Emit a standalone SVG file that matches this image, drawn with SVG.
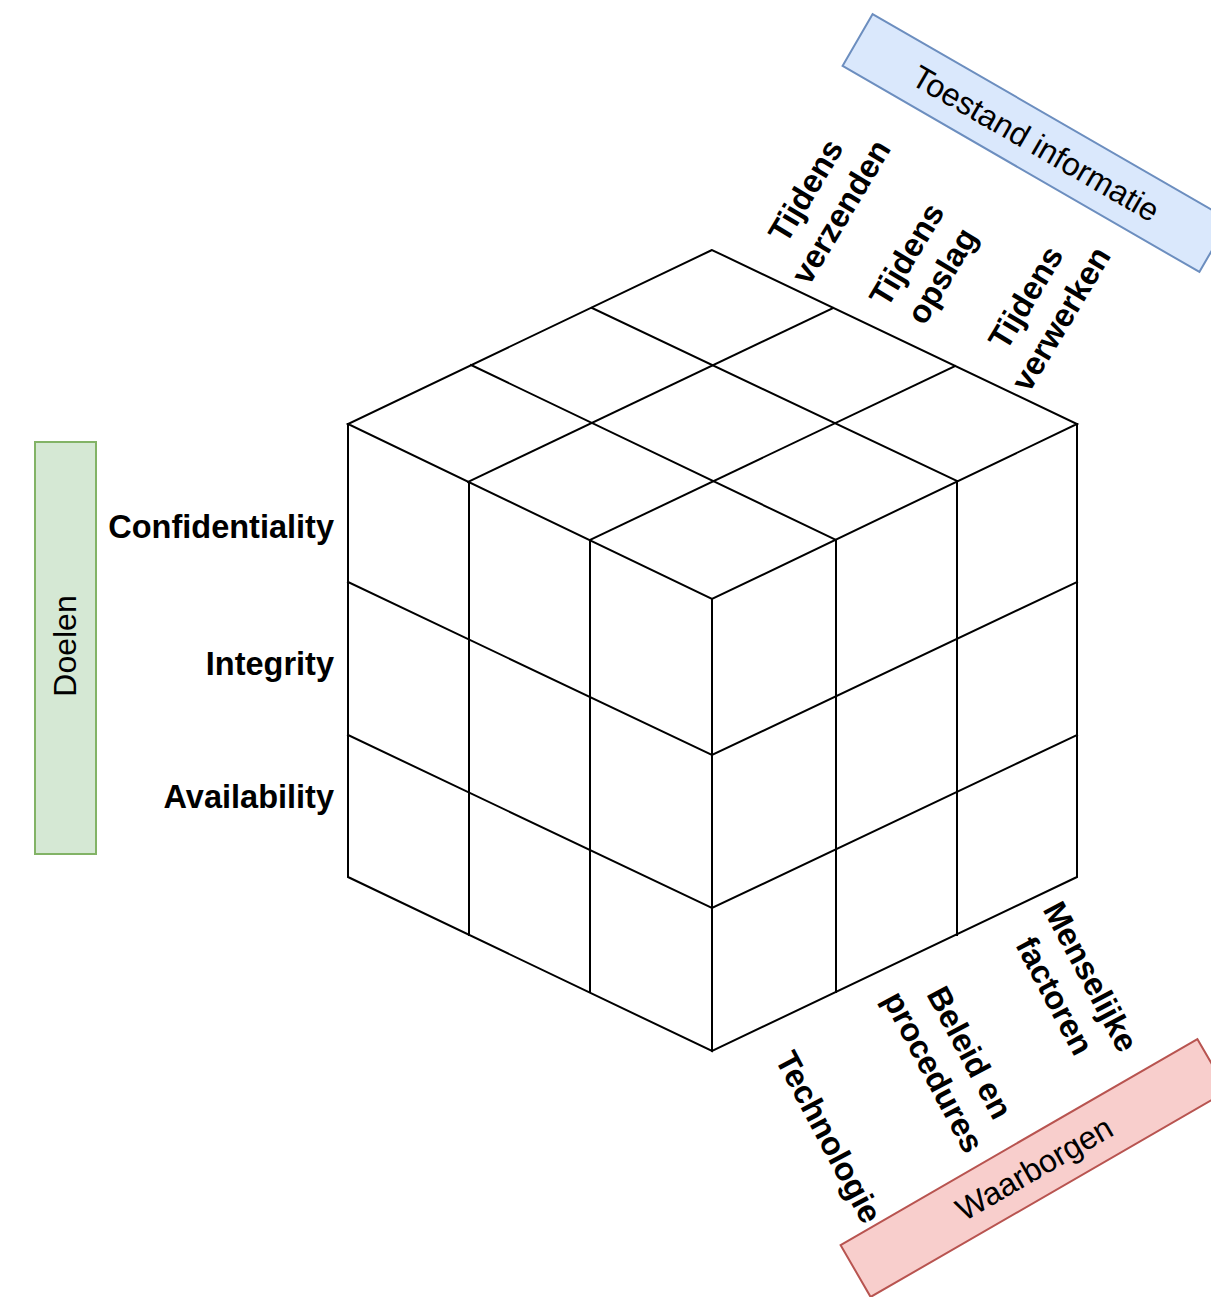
<svg xmlns="http://www.w3.org/2000/svg" width="1211" height="1297" viewBox="0 0 1211 1297">
  <style>
    .grid { fill: none; stroke: #000; stroke-width: 2; stroke-linejoin: miter; stroke-linecap: square; }
    .lbl { font-family: "Liberation Sans", Arial, sans-serif; font-size: 32.5px; font-weight: bold; fill: #000; }
    .cap { font-family: "Liberation Sans", Arial, sans-serif; font-size: 32px; fill: #000; text-anchor: middle; }
    .mid { text-anchor: middle; }
    .end { text-anchor: end; }
  </style>
  <rect width="1211" height="1297" fill="#fff"/>

  <!-- 3x3x3 isometric cube -->
  <g id="cube" class="grid">
    <!-- outline -->
    <polygon points="712,250 348,424 712,599 1077,424"/>
    <polyline points="348,424 348,877 712,1051 712,599"/>
    <polyline points="1077,424 1077,877 712,1051"/>
    <!-- top face subdivisions -->
    <line x1="833" y1="308" x2="468" y2="482"/>
    <line x1="955" y1="366" x2="590" y2="540"/>
    <line x1="592" y1="308" x2="957" y2="481"/>
    <line x1="471" y1="365" x2="836" y2="540"/>
    <!-- left face subdivisions -->
    <line x1="469" y1="482" x2="469" y2="935"/>
    <line x1="590" y1="540" x2="590" y2="992"/>
    <line x1="348" y1="582" x2="712" y2="755"/>
    <line x1="348" y1="735" x2="712" y2="908"/>
    <!-- right face subdivisions -->
    <line x1="836" y1="540" x2="836" y2="992"/>
    <line x1="957" y1="481" x2="957" y2="935"/>
    <line x1="712" y1="755" x2="1077" y2="582"/>
    <line x1="712" y1="908" x2="1077" y2="735"/>
  </g>

  <!-- goals axis -->
  <g id="doelen">
    <rect x="35" y="442" width="61" height="412" fill="#d5e8d4" stroke="#82b366" stroke-width="2"/>
    <text class="cap" transform="translate(64,646) rotate(-90)" y="11.5">Doelen</text>
  </g>
  <g id="confidentiality"><text class="lbl end" x="334" y="538">Confidentiality</text></g>
  <g id="integrity"><text class="lbl end" x="334" y="675">Integrity</text></g>
  <g id="availability"><text class="lbl end" x="334" y="808">Availability</text></g>

  <!-- information state axis -->
  <g id="toestand" transform="translate(1036,143) rotate(30)">
    <rect x="-206" y="-30" width="412" height="60" fill="#dae8fc" stroke="#6c8ebf" stroke-width="2"/>
    <text class="cap" y="11.5">Toestand informatie</text>
  </g>
  <g id="verzenden" transform="translate(823,201) rotate(-59)">
    <text class="lbl mid"><tspan x="0" y="-9">Tijdens</tspan><tspan x="0" y="32">verzenden</tspan></text>
  </g>
  <g id="opslag" transform="translate(924,265) rotate(-59)">
    <text class="lbl mid"><tspan x="0" y="-9">Tijdens</tspan><tspan x="0" y="32">opslag</tspan></text>
  </g>
  <g id="verwerken" transform="translate(1043,308) rotate(-59)">
    <text class="lbl mid"><tspan x="0" y="-9">Tijdens</tspan><tspan x="0" y="32">verwerken</tspan></text>
  </g>

  <!-- safeguards axis -->
  <g id="waarborgen" transform="translate(1034,1168) rotate(-30)">
    <rect x="-206" y="-30" width="412" height="60" fill="#f8cecc" stroke="#b85450" stroke-width="2"/>
    <text class="cap" y="11.5">Waarborgen</text>
  </g>
  <g id="technologie" transform="translate(829,1137) rotate(62)">
    <text class="lbl mid" x="0" y="11.5">Technologie</text>
  </g>
  <g id="beleid" transform="translate(952,1062) rotate(62)">
    <text class="lbl mid"><tspan x="0" y="-9">Beleid en</tspan><tspan x="0" y="32">procedures</tspan></text>
  </g>
  <g id="menselijk" transform="translate(1073,986) rotate(62)">
    <text class="lbl mid"><tspan x="0" y="-9">Menselijke</tspan><tspan x="0" y="32">factoren</tspan></text>
  </g>

  <!-- no connectors in this figure -->
  <g id="connectors"/>
</svg>
